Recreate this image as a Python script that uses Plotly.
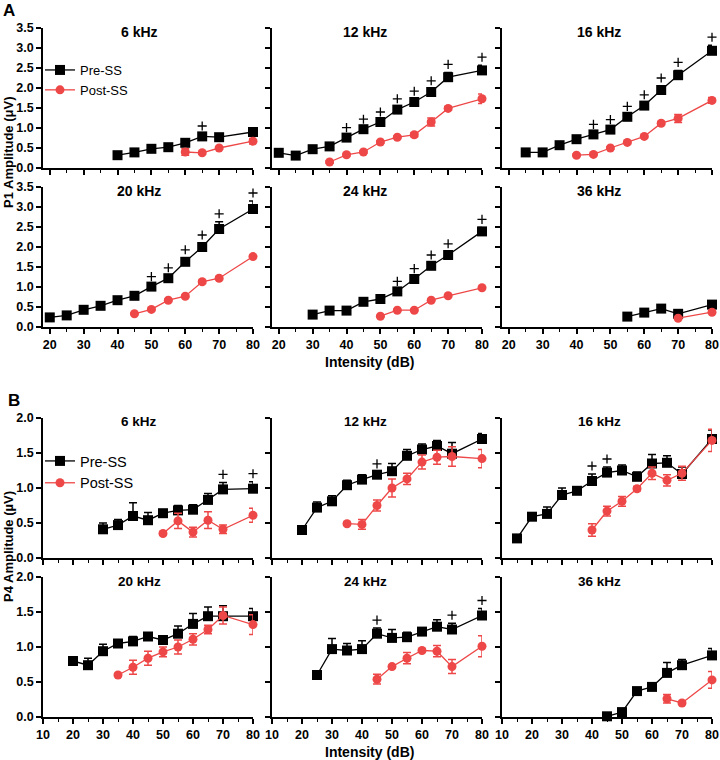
import plotly.graph_objects as go

# ---------------- Data: P1 amplitude (panel A) ----------------
p1_6k_pre_db = [40, 45, 50, 55, 60, 65, 70, 80]
p1_6k_pre = [0.32, 0.39, 0.48, 0.52, 0.63, 0.79, 0.77, 0.90]
p1_6k_pre_sem = [0.03, 0.03, 0.03, 0.03, 0.04, 0.06, 0.04, 0.10]
p1_6k_post_db = [60, 65, 70, 80]
p1_6k_post = [0.40, 0.38, 0.50, 0.67]
p1_6k_post_sem = [0.08, 0.03, 0.03, 0.07]
p1_6k_sig = [65]

p1_12k_pre_db = [20, 25, 30, 35, 40, 45, 50, 55, 60, 65, 70, 80]
p1_12k_pre = [0.38, 0.31, 0.47, 0.54, 0.76, 0.97, 1.15, 1.46, 1.65, 1.90, 2.27, 2.44]
p1_12k_pre_sem = [0.03, 0.03, 0.03, 0.04, 0.05, 0.05, 0.05, 0.07, 0.07, 0.08, 0.12, 0.13]
p1_12k_post_db = [35, 40, 45, 50, 55, 60, 65, 70, 80]
p1_12k_post = [0.15, 0.33, 0.40, 0.65, 0.77, 0.83, 1.15, 1.49, 1.73]
p1_12k_post_sem = [0.03, 0.03, 0.03, 0.03, 0.03, 0.05, 0.10, 0.04, 0.12]
p1_12k_sig = [40, 45, 50, 55, 60, 65, 70, 80]

p1_16k_pre_db = [25, 30, 35, 40, 45, 50, 55, 60, 65, 70, 80]
p1_16k_pre = [0.39, 0.39, 0.57, 0.72, 0.84, 0.96, 1.28, 1.56, 1.95, 2.32, 2.93]
p1_16k_pre_sem = [0.03, 0.03, 0.03, 0.04, 0.05, 0.05, 0.06, 0.07, 0.10, 0.12, 0.14]
p1_16k_post_db = [40, 45, 50, 55, 60, 65, 70, 80]
p1_16k_post = [0.32, 0.34, 0.50, 0.64, 0.79, 1.12, 1.24, 1.69]
p1_16k_post_sem = [0.03, 0.03, 0.03, 0.03, 0.03, 0.04, 0.10, 0.07]
p1_16k_sig = [45, 50, 55, 60, 65, 70, 80]

p1_20k_pre_db = [20, 25, 30, 35, 40, 45, 50, 55, 60, 65, 70, 80]
p1_20k_pre = [0.24, 0.29, 0.43, 0.53, 0.67, 0.78, 1.01, 1.22, 1.63, 2.00, 2.45, 2.95]
p1_20k_pre_sem = [0.02, 0.02, 0.03, 0.03, 0.03, 0.04, 0.05, 0.06, 0.10, 0.10, 0.18, 0.20]
p1_20k_post_db = [45, 50, 55, 60, 65, 70, 80]
p1_20k_post = [0.33, 0.44, 0.67, 0.77, 1.13, 1.22, 1.76]
p1_20k_post_sem = [0.02, 0.03, 0.03, 0.03, 0.04, 0.04, 0.04]
p1_20k_sig = [50, 55, 60, 65, 70, 80]

p1_24k_pre_db = [30, 35, 40, 45, 50, 55, 60, 65, 70, 80]
p1_24k_pre = [0.31, 0.41, 0.41, 0.63, 0.70, 0.89, 1.20, 1.53, 1.80, 2.39]
p1_24k_pre_sem = [0.02, 0.03, 0.03, 0.03, 0.03, 0.05, 0.06, 0.07, 0.08, 0.10]
p1_24k_post_db = [50, 55, 60, 65, 70, 80]
p1_24k_post = [0.27, 0.42, 0.42, 0.67, 0.78, 0.98]
p1_24k_post_sem = [0.02, 0.02, 0.02, 0.02, 0.02, 0.03]
p1_24k_sig = [55, 60, 65, 70, 80]

p1_36k_pre_db = [55, 60, 65, 70, 80]
p1_36k_pre = [0.26, 0.36, 0.46, 0.33, 0.56]
p1_36k_pre_sem = [0.02, 0.02, 0.02, 0.02, 0.04]
p1_36k_post_db = [70, 80]
p1_36k_post = [0.22, 0.37]
p1_36k_post_sem = [0.02, 0.02]
p1_36k_sig = []

# ---------------- Data: P4 amplitude (panel B) ----------------
p4_6k_pre_db = [30, 35, 40, 45, 50, 55, 60, 65, 70, 80]
p4_6k_pre = [0.41, 0.47, 0.60, 0.54, 0.64, 0.68, 0.69, 0.83, 0.98, 0.99]
p4_6k_pre_sem = [0.09, 0.08, 0.19, 0.11, 0.04, 0.07, 0.07, 0.09, 0.10, 0.10]
p4_6k_post_db = [50, 55, 60, 65, 70, 80]
p4_6k_post = [0.35, 0.53, 0.37, 0.54, 0.41, 0.61]
p4_6k_post_sem = [0.02, 0.11, 0.07, 0.12, 0.06, 0.10]
p4_6k_sig = [70, 80]

p4_12k_pre_db = [20, 25, 30, 35, 40, 45, 50, 55, 60, 65, 70, 80]
p4_12k_pre = [0.40, 0.72, 0.81, 1.04, 1.12, 1.19, 1.24, 1.46, 1.55, 1.60, 1.49, 1.70]
p4_12k_pre_sem = [0.04, 0.08, 0.08, 0.07, 0.07, 0.04, 0.11, 0.09, 0.08, 0.08, 0.16, 0.08]
p4_12k_post_db = [35, 40, 45, 50, 55, 60, 65, 70, 80]
p4_12k_post = [0.49, 0.48, 0.75, 1.00, 1.13, 1.37, 1.44, 1.45, 1.42]
p4_12k_post_sem = [0.02, 0.07, 0.08, 0.13, 0.08, 0.10, 0.10, 0.14, 0.13]
p4_12k_sig = [45]

p4_16k_pre_db = [15, 20, 25, 30, 35, 40, 45, 50, 55, 60, 65, 70, 80]
p4_16k_pre = [0.28, 0.59, 0.63, 0.90, 0.96, 1.10, 1.22, 1.25, 1.16, 1.35, 1.36, 1.20, 1.70]
p4_16k_pre_sem = [0.02, 0.05, 0.10, 0.10, 0.04, 0.10, 0.08, 0.08, 0.07, 0.13, 0.10, 0.10, 0.13]
p4_16k_post_db = [40, 45, 50, 55, 60, 65, 70, 80]
p4_16k_post = [0.40, 0.67, 0.81, 0.99, 1.21, 1.11, 1.21, 1.68]
p4_16k_post_sem = [0.09, 0.07, 0.07, 0.03, 0.09, 0.08, 0.10, 0.16]
p4_16k_sig = [40, 45]

p4_20k_pre_db = [20, 25, 30, 35, 40, 45, 50, 55, 60, 65, 70, 80]
p4_20k_pre = [0.80, 0.74, 0.94, 1.05, 1.08, 1.15, 1.10, 1.19, 1.33, 1.44, 1.44, 1.44]
p4_20k_pre_sem = [0.03, 0.10, 0.10, 0.04, 0.07, 0.05, 0.04, 0.11, 0.15, 0.13, 0.15, 0.11]
p4_20k_post_db = [35, 40, 45, 50, 55, 60, 65, 70, 80]
p4_20k_post = [0.60, 0.71, 0.84, 0.93, 1.00, 1.11, 1.25, 1.45, 1.32]
p4_20k_post_sem = [0.02, 0.10, 0.10, 0.07, 0.10, 0.08, 0.06, 0.12, 0.14]
p4_20k_sig = []

p4_24k_pre_db = [25, 30, 35, 40, 45, 50, 55, 60, 65, 70, 80]
p4_24k_pre = [0.60, 0.97, 0.95, 0.97, 1.19, 1.13, 1.14, 1.22, 1.29, 1.25, 1.45]
p4_24k_pre_sem = [0.04, 0.15, 0.10, 0.12, 0.08, 0.12, 0.07, 0.05, 0.10, 0.09, 0.10]
p4_24k_post_db = [45, 50, 55, 60, 65, 70, 80]
p4_24k_post = [0.54, 0.72, 0.84, 0.95, 0.94, 0.72, 1.01]
p4_24k_post_sem = [0.07, 0.02, 0.08, 0.02, 0.08, 0.10, 0.15]
p4_24k_sig = [45, 70, 80]

p4_36k_pre_db = [45, 50, 55, 60, 65, 70, 80]
p4_36k_pre = [0.01, 0.07, 0.37, 0.43, 0.63, 0.74, 0.88]
p4_36k_pre_sem = [0.02, 0.03, 0.04, 0.03, 0.15, 0.08, 0.10]
p4_36k_post_db = [65, 70, 80]
p4_36k_post = [0.26, 0.20, 0.53]
p4_36k_post_sem = [0.06, 0.02, 0.12]
p4_36k_sig = []

freq_labels = ["6 kHz", "12 kHz", "16 kHz", "20 kHz", "24 kHz", "36 kHz"]
a_xticks = [20, 30, 40, 50, 60, 70, 80]
b_xticks = [10, 20, 30, 40, 50, 60, 70, 80]
a_yticks = [0.0, 0.5, 1.0, 1.5, 2.0, 2.5, 3.0, 3.5]
b_yticks = [0.0, 0.5, 1.0, 1.5, 2.0]

panels = [
    (p1_6k_pre_db, p1_6k_pre, p1_6k_pre_sem, p1_6k_post_db, p1_6k_post, p1_6k_post_sem, p1_6k_sig),
    (p1_12k_pre_db, p1_12k_pre, p1_12k_pre_sem, p1_12k_post_db, p1_12k_post, p1_12k_post_sem, p1_12k_sig),
    (p1_16k_pre_db, p1_16k_pre, p1_16k_pre_sem, p1_16k_post_db, p1_16k_post, p1_16k_post_sem, p1_16k_sig),
    (p1_20k_pre_db, p1_20k_pre, p1_20k_pre_sem, p1_20k_post_db, p1_20k_post, p1_20k_post_sem, p1_20k_sig),
    (p1_24k_pre_db, p1_24k_pre, p1_24k_pre_sem, p1_24k_post_db, p1_24k_post, p1_24k_post_sem, p1_24k_sig),
    (p1_36k_pre_db, p1_36k_pre, p1_36k_pre_sem, p1_36k_post_db, p1_36k_post, p1_36k_post_sem, p1_36k_sig),
    (p4_6k_pre_db, p4_6k_pre, p4_6k_pre_sem, p4_6k_post_db, p4_6k_post, p4_6k_post_sem, p4_6k_sig),
    (p4_12k_pre_db, p4_12k_pre, p4_12k_pre_sem, p4_12k_post_db, p4_12k_post, p4_12k_post_sem, p4_12k_sig),
    (p4_16k_pre_db, p4_16k_pre, p4_16k_pre_sem, p4_16k_post_db, p4_16k_post, p4_16k_post_sem, p4_16k_sig),
    (p4_20k_pre_db, p4_20k_pre, p4_20k_pre_sem, p4_20k_post_db, p4_20k_post, p4_20k_post_sem, p4_20k_sig),
    (p4_24k_pre_db, p4_24k_pre, p4_24k_pre_sem, p4_24k_post_db, p4_24k_post, p4_24k_post_sem, p4_24k_sig),
    (p4_36k_pre_db, p4_36k_pre, p4_36k_pre_sem, p4_36k_post_db, p4_36k_post, p4_36k_post_sem, p4_36k_sig),
]

# ---------------- Layout geometry / styling ----------------
W, H = 720, 760
FONT = "Arial, 'Liberation Sans', sans-serif"
RED = "#ee4747"


def px(x):
    return x / W


def py(y):
    return 1 - y / H


col_px = [(43, 253), (272, 482), (502, 712)]
row_px = [(28, 168), (187, 327), (418, 558), (577, 717)]
title_x = [139, 365, 599]
SIG_GAP_PX = 8  # gap between error-bar top and the "+" mark

fig = go.Figure()
layout = dict(
    width=W, height=H, margin=dict(l=0, r=0, t=0, b=0, autoexpand=False),
    paper_bgcolor="white", plot_bgcolor="white",
    font=dict(family=FONT, color="black"),
    showlegend=True,
)
annotations = []

for i, (pre_x, pre_y, pre_e, post_x, post_y, post_e, sig) in enumerate(panels):
    grp = i // 6
    r = (i % 6) // 3
    c = i % 3
    k = i + 1
    xa = "x" if k == 1 else f"x{k}"
    ya = "y" if k == 1 else f"y{k}"
    leg = "legend" if grp == 0 else "legend2"
    first = (i % 6 == 0)
    yr = [0, 3.5] if grp == 0 else [0, 2.0]
    rt, rb = row_px[grp * 2 + r]
    units_per_px = (yr[1] - yr[0]) / (rb - rt)

    fig.add_trace(go.Scatter(
        x=pre_x, y=pre_y, mode="lines+markers", name="Pre-SS",
        xaxis=xa, yaxis=ya, legend=leg, showlegend=first, cliponaxis=False,
        line=dict(color="black", width=1.3),
        marker=dict(symbol="square", size=10, color="black"),
        error_y=dict(type="data", array=pre_e, arrayminus=[0] * len(pre_e),
                     symmetric=False, color="black", thickness=1.5, width=4),
    ))
    fig.add_trace(go.Scatter(
        x=post_x, y=post_y, mode="lines+markers", name="Post-SS",
        xaxis=xa, yaxis=ya, legend=leg, showlegend=first, cliponaxis=False,
        line=dict(color=RED, width=1.3),
        marker=dict(symbol="circle", size=9, color=RED),
        error_y=dict(type="data", array=post_e, symmetric=True,
                     color=RED, thickness=1.5, width=4),
    ))
    if sig:
        sx, sy = [], []
        for s in sig:
            j = pre_x.index(s)
            sx.append(s)
            sy.append(pre_y[j] + pre_e[j] + SIG_GAP_PX * units_per_px)
        fig.add_trace(go.Scatter(
            x=sx, y=sy, mode="markers",
            marker=dict(symbol="cross-thin", size=6.5, line=dict(color="black", width=1.3)),
            xaxis=xa, yaxis=ya, showlegend=False, cliponaxis=False, hoverinfo="skip",
        ))

    x0, x1 = col_px[c]
    bottom = (r == 1)
    left = (c == 0)
    xkey = "xaxis" if k == 1 else f"xaxis{k}"
    ykey = "yaxis" if k == 1 else f"yaxis{k}"
    layout[xkey] = dict(
        domain=[px(x0), px(x1)], anchor=ya, automargin=False,
        range=[18, 80] if grp == 0 else [10, 80],
        tickvals=a_xticks if grp == 0 else b_xticks,
        ticks="outside", ticklen=5, tickwidth=1.5, tickcolor="black",
        showline=True, linewidth=1.6, linecolor="black",
        showgrid=False, zeroline=False, showticklabels=bottom,
        tickfont=dict(size=12.5, family=FONT, weight="bold"),
        minor=dict(ticks="outside", ticklen=3, tickwidth=1.3, tickcolor="black", dtick=5, tick0=0, showgrid=False),
        fixedrange=True,
    )
    layout[ykey] = dict(
        domain=[py(rb), py(rt)], anchor=xa, automargin=False,
        range=yr,
        tickvals=a_yticks if grp == 0 else b_yticks,
        tickformat=".1f",
        ticks="outside", ticklen=5, tickwidth=1.5, tickcolor="black",
        showline=True, linewidth=1.6, linecolor="black",
        showgrid=False, zeroline=False, showticklabels=left,
        tickfont=dict(size=12.5, family=FONT, weight="bold"),
        fixedrange=True,
    )
    annotations.append(dict(
        text=freq_labels[i % 6], x=px(title_x[c]), y=py(rt + 4),
        xref="paper", yref="paper", showarrow=False, xanchor="center", yanchor="middle",
        font=dict(size=14 if grp == 0 else 13.5, family=FONT, weight="bold"),
    ))

annotations += [
    dict(text="A", x=px(9), y=py(10), xref="paper", yref="paper", showarrow=False,
         xanchor="center", yanchor="middle", font=dict(size=17, family=FONT, weight="bold")),
    dict(text="B", x=px(14), y=py(400), xref="paper", yref="paper", showarrow=False,
         xanchor="center", yanchor="middle", font=dict(size=17, family=FONT, weight="bold")),
    dict(text="Intensity (dB)", x=px(370), y=py(362), xref="paper", yref="paper", showarrow=False,
         xanchor="center", yanchor="middle", font=dict(size=14, family=FONT, weight="bold")),
    dict(text="Intensity (dB)", x=px(370), y=py(752), xref="paper", yref="paper", showarrow=False,
         xanchor="center", yanchor="middle", font=dict(size=14, family=FONT, weight="bold")),
    dict(text="P1 Amplitude (\u03bcV)", x=px(8), y=py(153), xref="paper", yref="paper", showarrow=False,
         textangle=-90, xanchor="center", yanchor="middle",
         font=dict(size=13, family=FONT, weight="bold")),
    dict(text="P4 Amplitude (\u00b5V)", x=px(8), y=py(547), xref="paper", yref="paper", showarrow=False,
         textangle=-90, xanchor="center", yanchor="middle",
         font=dict(size=13, family=FONT, weight="bold")),
]
layout["annotations"] = annotations
layout["legend"] = dict(x=px(40), y=py(55), xanchor="left", yanchor="top",
                        bgcolor="rgba(0,0,0,0)", font=dict(size=13, family=FONT),
                        itemwidth=30, tracegroupgap=0)
layout["legend2"] = dict(x=px(40), y=py(445), xanchor="left", yanchor="top",
                         bgcolor="rgba(0,0,0,0)", font=dict(size=14.5, family=FONT),
                         itemwidth=30, tracegroupgap=0)

fig.update_layout(**layout)
# remove the browser's default 8px body margin so the figure sits at the window origin
fig.write_html("out.html", config={"displayModeBar": False},
               post_script="document.body.style.margin='0px';")
